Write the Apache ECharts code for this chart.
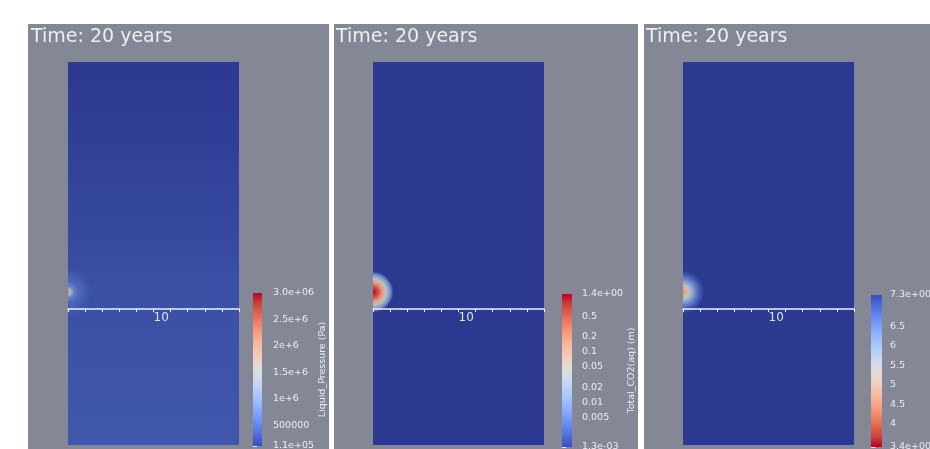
<!DOCTYPE html>
<html>
<head>
<meta charset="utf-8">
<script src="https://cdn.jsdelivr.net/npm/echarts@6/dist/echarts.min.js"></script>
<style>
  html, body { margin: 0; padding: 0; background: #ffffff; }
  #chart { width: 930px; height: 449px; }
</style>
</head>
<body>
<div id="chart"></div>
<script>
// ---------------- data ----------------
const timeLabel = 'Time: 20 years';

// model domain (m); the horizontal axis plane sits at y = 0
const domainX = [0, 20];
const domainY = [-15.9, 28.9];
const axisPlaneY = 0;
const sourcePoint = [0, 2.0];
const xLabelValues = [10];

// liquid pressure (Pa) against height, away from the well
const pressureLevelY = [28.9, 20, 10, 2, -6, -15.9];
const pressureLevelValues = [1.1e5, 1.6e5, 2.3e5, 2.9e5, 3.2e5, 3.5e5];
// liquid pressure (Pa) against distance (m) from the injection point
const pressureRadius = [0, 0.15, 0.35, 0.7, 1.2, 1.9, 3.0];
const pressureRadialValues = [3.0e6, 2.0e6, 1.2e6, 7.0e5, 5.0e5, 4.0e5, 3.2e5];

// dissolved CO2 (m) against distance (m) from the injection point
const co2Radius = [0, 0.35, 0.7, 1.05, 1.5, 2.0, 2.4];
const co2RadialValues = [1.4, 1.0, 0.6, 0.2, 0.045, 0.008, 0.0013];
const co2Background = 1.3e-3;

// pH against distance (m) from the injection point
const phRadius = [0, 0.3, 0.7, 1.15, 1.6, 2.05, 2.5];
const phRadialValues = [4.3, 4.7, 5.3, 6.0, 6.6, 7.0, 7.3];
const phBackground = 7.3;

// colour bar ranges and ticks
const pressureRange = [1.1e5, 3.0e6];
const pressureTicks = [1.1e5, 5e5, 1e6, 1.5e6, 2e6, 2.5e6, 3.0e6];
const pressureTickLabels = ['1.1e+05', '500000', '1e+6', '1.5e+6', '2e+6', '2.5e+6', '3.0e+06'];

const co2Range = [1.3e-3, 1.4];
const co2Ticks = [1.3e-3, 0.005, 0.01, 0.02, 0.05, 0.1, 0.2, 0.5, 1.4];
const co2TickLabels = ['1.3e-03', '0.005', '0.01', '0.02', '0.05', '0.1', '0.2', '0.5', '1.4e+00'];
const co2TickMarks = [1.3e-3, 0.002, 0.003, 0.004, 0.005, 0.006, 0.007, 0.008, 0.009,
  0.01, 0.02, 0.03, 0.04, 0.05, 0.06, 0.07, 0.08, 0.09,
  0.1, 0.2, 0.3, 0.4, 0.5, 0.6, 0.7, 0.8, 0.9, 1.0, 1.4];

const phRange = [3.4, 7.3];
const phTicks = [3.4, 4, 4.5, 5, 5.5, 6, 6.5, 7.3];
const phTickLabels = ['3.4e+00', '4', '4.5', '5', '5.5', '6', '6.5', '7.3e+00'];

// ---------------- colour handling ----------------
// diverging cool-to-warm colour map (blue -> grey-white -> red)
const COOL_WARM = [
  [59, 76, 192], [77, 104, 215], [98, 130, 234], [119, 154, 247], [141, 176, 254],
  [163, 194, 255], [184, 208, 249], [204, 217, 238], [221, 221, 221], [236, 211, 197],
  [245, 196, 173], [247, 177, 148], [244, 154, 123], [236, 127, 99], [222, 96, 77],
  [203, 62, 56], [180, 4, 38]
];
function coolWarm(t) {
  t = Math.max(0, Math.min(1, t));
  const f = t * (COOL_WARM.length - 1);
  const i = Math.min(Math.floor(f), COOL_WARM.length - 2);
  const u = f - i;
  const a = COOL_WARM[i], b = COOL_WARM[i + 1];
  return [0, 1, 2].map(k => a[k] + (b[k] - a[k]) * u);
}
// lit surface: the cool end of the map renders darker on the mesh
function surfaceRgb(t, alpha) {
  const c = coolWarm(t);
  const s = 0.75 + 0.25 * Math.max(0, Math.min(1, t));
  const a = alpha === undefined ? 1 : alpha;
  return 'rgba(' + Math.round(c[0] * s) + ',' + Math.round(c[1] * s) + ',' + Math.round(c[2] * s) + ',' + a + ')';
}
function plainRgb(t) {
  const c = coolWarm(t);
  return 'rgb(' + Math.round(c[0]) + ',' + Math.round(c[1]) + ',' + Math.round(c[2]) + ')';
}
const tPressure = v => (v - pressureRange[0]) / (pressureRange[1] - pressureRange[0]);
const tCo2 = v => (Math.log10(v) - Math.log10(co2Range[0])) / (Math.log10(co2Range[1]) - Math.log10(co2Range[0]));
const tPh = v => (phRange[1] - v) / (phRange[1] - phRange[0]);

// ---------------- layout ----------------
const PANEL_BG = '#848796';
const TEXT = '#eceef3';
const FONT = 'DejaVu Sans';
const panels = [
  { x: 28, w: 301, domainLeft: 68, bar: { left: 253, top: 293, width: 9, height: 153 }, labelGap: 11, titleLeft: 31 },
  { x: 334, w: 304, domainLeft: 373, bar: { left: 562, top: 294, width: 10, height: 153 }, labelGap: 10, titleLeft: 336 },
  { x: 644, w: 286, domainLeft: 683, bar: { left: 871, top: 295, width: 11, height: 152 }, labelGap: 8, titleLeft: 646 }
];
const DOMAIN_TOP = 62, DOMAIN_W = 171, DOMAIN_H = 383;
// lift the x axis from the bottom edge up to the axis plane
const AXIS_OFFSET = -DOMAIN_H * (axisPlaneY - domainY[0]) / (domainY[1] - domainY[0]);

// ---------------- render helpers ----------------
function domainRect(api) {
  const tl = api.coord([domainX[0], domainY[1]]);
  const br = api.coord([domainX[1], domainY[0]]);
  return { x: tl[0], y: tl[1], width: br[0] - tl[0], height: br[1] - tl[1] };
}
function layeredDomain(params, api) {
  const r = domainRect(api);
  const stops = pressureLevelY.map((y, i) => ({
    offset: (api.coord([0, y])[1] - r.y) / r.height,
    color: surfaceRgb(tPressure(pressureLevelValues[i]))
  }));
  return {
    type: 'rect', shape: r,
    style: { fill: { type: 'linear', x: 0, y: 0, x2: 0, y2: 1, colorStops: stops } }
  };
}
function uniformDomain(color) {
  return function (params, api) {
    return { type: 'rect', shape: domainRect(api), style: { fill: color } };
  };
}
function plume(radius, values, toT, fadeOut) {
  return function (params, api) {
    const c = api.coord(sourcePoint);
    const rMax = radius[radius.length - 1];
    const R = api.size([rMax, 0])[0];
    const stops = radius.map((r, i) => ({
      offset: r / rMax,
      color: surfaceRgb(toT(values[i]), fadeOut && i === radius.length - 1 ? 0 : 1)
    }));
    return {
      type: 'sector',
      shape: { cx: c[0], cy: c[1], r0: 0, r: R, startAngle: -Math.PI / 2, endAngle: Math.PI / 2, clockwise: true },
      style: { fill: { type: 'radial', x: c[0], y: c[1], r: R, global: true, colorStops: stops } }
    };
  };
}
function colourBar(range, topT, bottomT) {
  return function (params, api) {
    const p1 = api.coord([0, range[1]]);
    const p2 = api.coord([1, range[0]]);
    const stops = [];
    for (let k = 0; k <= 16; k++) {
      const o = k / 16;
      stops.push({ offset: o, color: plainRgb(topT + (bottomT - topT) * o) });
    }
    return {
      type: 'rect',
      shape: { x: p1[0], y: p1[1], width: p2[0] - p1[0], height: p2[1] - p1[1] },
      style: { fill: { type: 'linear', x: 0, y: 0, x2: 0, y2: 1, colorStops: stops } }
    };
  };
}
function labelLookup(ticks, labels) {
  return function (v) {
    for (let i = 0; i < ticks.length; i++) {
      if (Math.abs(ticks[i] - v) <= 1e-6 * Math.abs(ticks[i])) return labels[i];
    }
    return '';
  };
}

// ---------------- option ----------------
const grids = [], xAxes = [], yAxes = [], series = [];

panels.forEach((p, i) => {
  grids.push({ left: p.domainLeft, top: DOMAIN_TOP, width: DOMAIN_W, height: DOMAIN_H,
    containLabel: false, outerBoundsMode: 'none' });
  xAxes.push({
    gridIndex: i, type: 'value', min: domainX[0], max: domainX[1], interval: 2, z: 5,
    position: 'bottom', offset: AXIS_OFFSET,
    axisLine: { show: true, onZero: false, lineStyle: { color: '#f0f1f5', width: 1.5 } },
    axisTick: { show: true, inside: false, length: 3, lineStyle: { color: '#f0f1f5', width: 1 } },
    axisLabel: { customValues: xLabelValues, color: '#dfe1e8', fontSize: 12, fontFamily: FONT, margin: 3, align: 'left' },
    splitLine: { show: false }
  });
  yAxes.push({ gridIndex: i, type: 'value', min: domainY[0], max: domainY[1], show: false });
});

panels.forEach((p, i) => {
  grids.push(Object.assign({ containLabel: false, outerBoundsMode: 'none' }, p.bar));
  xAxes.push({ gridIndex: 3 + i, type: 'value', min: 0, max: 1, show: false });
});

function barAxis(gridIndex, extra, ticks, labels, tickMarks) {
  return Object.assign({
    gridIndex: gridIndex,
    position: 'right',
    axisLine: { show: false },
    splitLine: { show: false },
    nameLocation: 'middle',
    nameRotate: 90,
    nameTextStyle: { color: TEXT, fontSize: 9.5, fontFamily: FONT },
    axisTick: { show: true, inside: false, length: 4, customValues: tickMarks, lineStyle: { color: TEXT } },
    axisLabel: { customValues: ticks, formatter: labelLookup(ticks, labels),
      color: TEXT, fontSize: 9.5, fontFamily: FONT, margin: panels[gridIndex - 3].labelGap,
      showMinLabel: true, showMaxLabel: true }
  }, extra);
}
yAxes.push(barAxis(3, { type: 'value', min: pressureRange[0], max: pressureRange[1],
  name: 'Liquid_Pressure (Pa)', nameGap: 52 }, pressureTicks, pressureTickLabels, pressureTicks));
yAxes.push(barAxis(4, { type: 'log', logBase: 10, min: co2Range[0], max: co2Range[1],
  name: 'Total_CO2(aq) (m)', nameGap: 50 }, co2Ticks, co2TickLabels, co2TickMarks));
yAxes.push(barAxis(5, { type: 'value', min: phRange[0], max: phRange[1] }, phTicks, phTickLabels, phTicks));

// domain fields
series.push({ type: 'custom', xAxisIndex: 0, yAxisIndex: 0, z: 2, silent: true,
  data: [[domainX[0], domainY[0]]], renderItem: layeredDomain });
series.push({ type: 'custom', xAxisIndex: 0, yAxisIndex: 0, z: 3, silent: true,
  data: [sourcePoint], renderItem: plume(pressureRadius, pressureRadialValues, tPressure, true) });

series.push({ type: 'custom', xAxisIndex: 1, yAxisIndex: 1, z: 2, silent: true,
  data: [[domainX[0], domainY[0]]], renderItem: uniformDomain(surfaceRgb(tCo2(co2Background))) });
series.push({ type: 'custom', xAxisIndex: 1, yAxisIndex: 1, z: 3, silent: true,
  data: [sourcePoint], renderItem: plume(co2Radius, co2RadialValues, tCo2, false) });

series.push({ type: 'custom', xAxisIndex: 2, yAxisIndex: 2, z: 2, silent: true,
  data: [[domainX[0], domainY[0]]], renderItem: uniformDomain(surfaceRgb(tPh(phBackground))) });
series.push({ type: 'custom', xAxisIndex: 2, yAxisIndex: 2, z: 3, silent: true,
  data: [sourcePoint], renderItem: plume(phRadius, phRadialValues, tPh, false) });

// colour bars
series.push({ type: 'custom', xAxisIndex: 3, yAxisIndex: 3, silent: true,
  data: [[0, pressureRange[0]]], renderItem: colourBar(pressureRange, 1, 0) });
series.push({ type: 'custom', xAxisIndex: 4, yAxisIndex: 4, silent: true,
  data: [[0, co2Range[0]]], renderItem: colourBar(co2Range, 1, 0) });
series.push({ type: 'custom', xAxisIndex: 5, yAxisIndex: 5, silent: true,
  data: [[0, phRange[0]]], renderItem: colourBar(phRange, 0, 1) });

const option = {
  backgroundColor: '#ffffff',
  animation: false,
  title: panels.map(p => ({
    text: timeLabel, left: p.titleLeft, top: 28, padding: 0,
    textStyle: { color: TEXT, fontSize: 19, fontWeight: 'normal', fontFamily: FONT }
  })),
  graphic: panels.map(p => ({
    type: 'rect', z: -10, silent: true,
    shape: { x: p.x, y: 24, width: p.w, height: 425 },
    style: { fill: PANEL_BG }
  })),
  grid: grids,
  xAxis: xAxes,
  yAxis: yAxes,
  series: series
};

const chart = echarts.init(document.getElementById('chart'), null, { renderer: 'canvas' });
chart.setOption(option);
</script>
</body>
</html>
